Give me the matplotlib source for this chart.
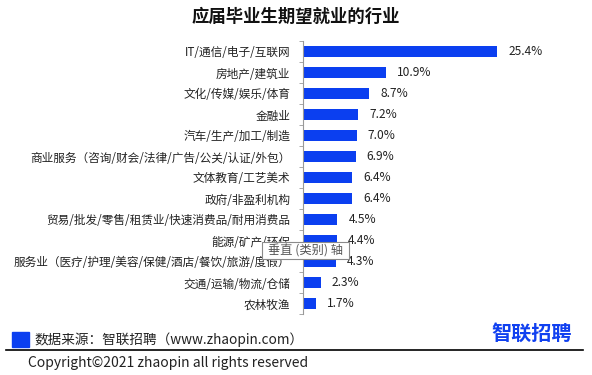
import numpy as np
import matplotlib.pyplot as plt
from matplotlib.patches import Rectangle, FancyBboxPatch

plt.rcParams['font.family'] = ['Noto Sans CJK SC', 'DejaVu Sans']

categories = ['IT/通信/电子/互联网', '房地产/建筑业', '文化/传媒/娱乐/体育', '金融业',
              '汽车/生产/加工/制造', '商业服务（咨询/财会/法律/广告/公关/认证/外包）',
              '文体教育/工艺美术', '政府/非盈利机构',
              '贸易/批发/零售/租赁业/快速消费品/耐用消费品', '能源/矿产/环保',
              '服务业（医疗/护理/美容/保健/酒店/餐饮/旅游/度假）',
              '交通/运输/物流/仓储', '农林牧渔']
values = [25.4, 10.9, 8.7, 7.2, 7.0, 6.9, 6.4, 6.4, 4.5, 4.4, 4.3, 2.3, 1.7]

W, H = 592, 375
fig = plt.figure(figsize=(W / 100, H / 100), dpi=100)

# axes placed in pixel terms: axis line at x=303, rows from y=41 to y=314
ax = fig.add_axes([303 / W, 1 - 314 / H, 240 / W, 273 / H])
y = np.arange(len(categories))
ax.barh(y, values, height=0.55, color='#0b3ff0')
ax.set_ylim(len(categories) - 0.5, -0.5)
ax.set_xlim(0, 31.4)

for yi, v in zip(y, values):
    ax.annotate(f'{v:.1f}%', (v, yi), xytext=(8, 0), textcoords='offset points',
                va='center', ha='left', fontsize=8.6, color='#222222')

ax.set_yticks(y)
ax.set_yticklabels(categories, fontsize=8.4, color='#222222')
ax.tick_params(axis='y', which='major', length=0, pad=9)
ax.set_yticks(np.arange(-0.5, len(categories), 1), minor=True)
ax.tick_params(axis='y', which='minor', length=3, color='#999999')
ax.set_xticks([])
for s in ['top', 'right', 'bottom']:
    ax.spines[s].set_visible(False)
ax.spines['left'].set_color('#999999')
ax.spines['left'].set_linewidth(0.8)

# title
fig.text(0.5, 1 - 17 / H, '应届毕业生期望就业的行业', ha='center', va='center',
         fontsize=12.5, fontweight='bold', color='#111111')

# tooltip left over from the screenshot
fig.patches.append(FancyBboxPatch((262 / W, 1 - 259 / H), 87 / W, 17 / H,
                                  boxstyle='square,pad=0', transform=fig.transFigure,
                                  facecolor='white', edgecolor='#8a8a8a', linewidth=0.8,
                                  zorder=5))
fig.text(305.5 / W, 1 - 250.5 / H, '垂直 (类别) 轴', ha='center', va='center',
         fontsize=8.8, color='#555555', zorder=6)

# footer
fig.patches.append(Rectangle((12 / W, 1 - 347 / H), 17 / W, 15 / H,
                             transform=fig.transFigure, color='#0b3ff0'))
fig.text(34 / W, 1 - 340 / H, '数据来源：智联招聘（www.zhaopin.com）', ha='left',
         va='center', fontsize=9.8, color='#222222')
fig.add_artist(plt.Line2D([6 / W, 583 / W], [1 - 350 / H, 1 - 350 / H],
                          color='black', linewidth=1.2))
fig.text(28 / W, 1 - 363 / H, 'Copyright©2021 zhaopin all rights reserved', ha='left',
         va='center', fontsize=10, color='#222222')

# logo
fig.text(532 / W, 1 - 333 / H, '智联招聘', ha='center', va='center',
         fontsize=14.5, fontweight='bold', color='#1040f0')

fig.savefig('out.png', dpi=100)
